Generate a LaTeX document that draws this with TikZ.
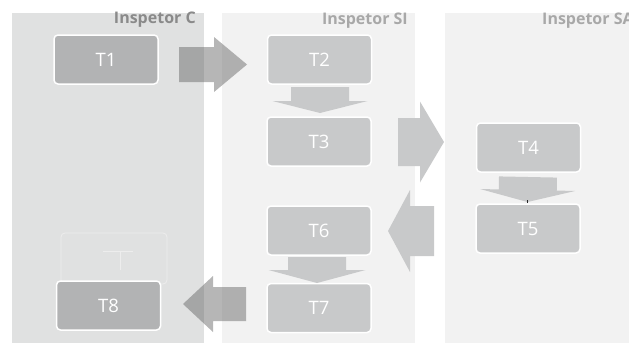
\documentclass[tikz,border=0pt]{standalone}
\usepackage{fontspec}
\setmainfont{Open Sans}
\usetikzlibrary{calc}

\definecolor{laneC}{HTML}{E0E1E1}
\definecolor{laneS}{HTML}{F2F2F2}
\definecolor{boxDark}{HTML}{B2B3B4}
\definecolor{boxLight}{HTML}{C8C9CA}
\definecolor{ghostLine}{HTML}{EDEDED}
\definecolor{titleDark}{HTML}{8A8A8A}
\definecolor{titleLight}{HTML}{A8A8A8}

% block arrow: style, from, tip, shaft half-width, head half-width, head length
\newcommand\blkarrow[6]{%
  \coordinate (ba) at ($(#3)!#6!(#2)$);
  \fill[#1] ($(#2)!#4!90:(#3)$) -- ($(ba)!#4!90:(#3)$) -- ($(ba)!#5!90:(#3)$)
    -- (#3) -- ($(ba)!#5!-90:(#3)$) -- ($(ba)!#4!-90:(#3)$)
    -- ($(#2)!#4!-90:(#3)$) -- cycle;
}

\begin{document}
\begin{tikzpicture}[x=1pt,y=-1pt,
  task/.style={rectangle, rounded corners=4pt, draw=white, line width=1.5pt,
    minimum width=104pt, minimum height=49pt, inner sep=0pt,
    text=white, font=\fontsize{18.5}{20}\selectfont},
  taskdark/.style={task, fill=boxDark},
  tasklight/.style={task, fill=boxLight},
  ghost/.style={rectangle, rounded corners=4pt, draw=ghostLine, line width=0.8pt,
    minimum width=106pt, minimum height=51pt, inner sep=0pt},
  lanetitle/.style={font=\bfseries\fontsize{16}{18}\selectfont, inner sep=0pt},
  handoff/.style={fill=black!60, fill opacity=0.48},
  flow/.style={fill=boxLight},
]
\useasboundingbox (0,0) rectangle (629,343);
\clip (0,0) rectangle (629,343);

% swimlanes
\fill[laneC] (12,13) rectangle (204,343);
\fill[laneS] (222,13) rectangle (415,343);
\fill[laneS] (445,13) rectangle (629,343);

\node[lanetitle, text=titleDark, anchor=east] (hC) at (196,20) {Inspetor C};
\node[lanetitle, text=titleLight, anchor=east] (hSI) at (408,21) {Inspetor SI};
\node[lanetitle, text=titleLight, anchor=west] (hSA) at (542,21) {Inspetor SA};

% tasks
\node[ghost] (G) at (114,258.5) {};
\draw[ghostLine, line width=0.8pt] ($(G.center)+(-11,-7.5)$) -- ($(G.center)+(19,-7.5)$)
  ($(G.center)+(6,-7.5)$) -- ($(G.center)+(6,11.5)$);

\node[taskdark] (T1) at (106,59.5) {T1};
\node[tasklight] (T2) at (319.5,59.5) {T2};
\node[tasklight] (T3) at (319,141.5) {T3};
\node[tasklight] (T4) at (528.5,147.5) {T4};
\node[tasklight] (T5) at (528,228.5) {T5};
\node[tasklight] (T6) at (319,230.5) {T6};
\node[tasklight] (T7) at (319,308) {T7};
\node[taskdark] (T8) at (108.5,305.5) {T8};

% arrows between tasks
\blkarrow{handoff}{$(T1.center)+(73,5)$}{$(T2.center)+(-72.5,5)$}{17.5pt}{27.5pt}{33pt}
\blkarrow{flow}{$(T2.center)+(0.5,27.5)$}{$(T3.center)+(1,-28.5)$}{29pt}{47.5pt}{12pt}
\blkarrow{flow}{$(T3.center)+(79,0.5)$}{$(T4.center)+(-84.5,-5.5)$}{24pt}{40.5pt}{24pt}
\blkarrow{flow}{$(T4.center)+(-0.5,29.5)$}{$(T5.center)+(-0.5,-26.5)$}{29pt}{47.5pt}{12pt}
\draw[black!85, line width=0.6pt] ($(T5.center)+(-0.5,-28.5)$) -- ($(T5.north)+(-0.5,0)$);
\blkarrow{flow}{$(T5.center)+(-94,2.5)$}{$(T6.center)+(69,0.5)$}{25pt}{41pt}{22pt}
\blkarrow{flow}{$(T6.center)+(-2,26.5)$}{$(T7.center)+(-2,-25)$}{29pt}{48.5pt}{13pt}
\blkarrow{handoff}{$(T7.center)+(-73,-4)$}{$(T8.center)+(74.5,-1.5)$}{17pt}{28pt}{30pt}
\end{tikzpicture}
\end{document}
